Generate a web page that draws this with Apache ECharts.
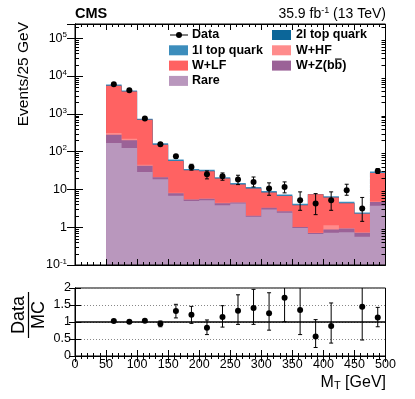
<!DOCTYPE html>
<html><head><meta charset="utf-8">
<script src="https://cdn.jsdelivr.net/npm/echarts@6/dist/echarts.min.js"></script>
<style>html,body{margin:0;padding:0;background:#fff}#c{width:415px;height:399px}</style>
</head><body><div id="c"></div>
<script>
// ---- data ----
var binLow = [50,75,100,125,150,175,200,225,250,275,300,325,350,375,400,425,450,475];
var binWidth = 25;
var rare  = [169,124,29,18.6,6.75,4.97,5.19,3.83,4.24,1.9,2.95,2.40,0.96,0.66,0.71,0.74,0.56,3.67];
var wzbb  = [112,75,13,2.3,1.2,0.44,0.5,0.5,0.27,0.1,0.3,0.26,0.05,0.04,0.16,0.19,0.15,1.0];
var whf   = [32,21,3,0.5,0.15,0.1,0.06,0.08,0.05,0.02,0.03,0.03,0.01,0.01,0.26,0.02,0.02,0.1];
var wlf   = [5200,3680,654,131,48.4,26.6,24.45,15,8.94,8.6,5.0,4.04,2.81,6.7,4.98,3.38,1.53,22.4];
var top2l = [60,40,8,2,0.5,0.3,0.3,0.2,0.1,0.1,0.07,0.06,0.03,0.01,0.05,0.03,0.02,0.2];
var top1l = [400,200,36,11,4.5,2.5,2.4,1.5,1.1,0.85,0.68,0.54,0.31,0.04,0.45,0.35,0.18,2.2];
var dataVal  = [6080,4180,757,156,75,39.3,25.2,22.3,18.2,15.8,10.6,11.6,5.2,4.25,5.2,9.5,3.13,30.7];
var dataErrUp   = [80,65,28,13,9,7,5.7,5,5.5,5.5,4.3,4.2,3.4,3.5,3.4,4.2,3.0,4.8];
var dataErrDown = [80,65,28,12,8.5,7,6.2,4.8,4.8,4.2,3.6,3.5,2.4,2.1,2.4,2.5,1.7,4.3];
var ratioVal     = [1.03,1.01,1.04,0.95,1.32,1.21,0.83,1.15,1.33,1.41,1.26,1.71,1.35,0.57,0.88,null,1.45,1.13];
var ratioErrUp   = [0.02,0.02,0.03,0.08,0.2,0.25,0.23,0.33,0.47,0.55,0.6,0.5,0.9,0.5,0.68,null,0.8,0.3];
var ratioErrDown = [0.02,0.02,0.03,0.09,0.2,0.25,0.2,0.3,0.4,0.48,0.5,0.7,0.72,0.32,0.5,null,0.98,0.27];
var refLine = [[0,1],[500,1]];
var legendNames = ['Data','2l top quark','1l top quark','W+HF','W+LF','W+Z(bb)','Rare'];

// ---- styles ----
var FONT = "'Liberation Sans', Arial, Helvetica, sans-serif";
var comps  = [rare, wzbb, whf, wlf, top2l, top1l];
var colors = ['#b997bd', '#9b6297', '#ff8c8c', '#ff6262', '#0c6699', '#3c8dbc'];
var yMin = 0.1, yMax = 238000;

var cum = [];
for (var k = 0; k < comps.length; k++) {
  cum.push(comps[k].map(function (v, i) { return v + (k > 0 ? cum[k - 1][i] : 0); }));
}
var binHigh = binLow[binLow.length - 1] + binWidth;

function stackItem(params, api) {
  var k = api.value(2);
  var c = cum[k];
  var pts = [];
  pts.push(api.coord([binLow[0], yMin]));
  for (var i = 0; i < binLow.length; i++) {
    pts.push(api.coord([binLow[i], c[i]]));
    pts.push(api.coord([binLow[i] + binWidth, c[i]]));
  }
  pts.push(api.coord([binHigh, yMin]));
  return { type: 'polygon', shape: { points: pts }, style: { fill: colors[k] } };
}

function errItem(params, api) {
  var x = api.value(0), y = api.value(1), lo = api.value(2), hi = api.value(3);
  var p = api.coord([x, y]), pl = api.coord([x, lo]), ph = api.coord([x, hi]);
  var st = { stroke: '#000', lineWidth: 1 };
  return { type: 'group', children: [
    { type: 'line', shape: { x1: p[0], y1: pl[1], x2: p[0], y2: ph[1] }, style: st },
    { type: 'line', shape: { x1: p[0] - 2, y1: pl[1], x2: p[0] + 2, y2: pl[1] }, style: st },
    { type: 'line', shape: { x1: p[0] - 2, y1: ph[1], x2: p[0] + 2, y2: ph[1] }, style: st },
    { type: 'circle', shape: { cx: p[0], cy: p[1], r: 3 }, style: { fill: '#000' } }
  ]};
}

function logMinorTicks(params, api) {
  var ch = [];
  var st = { stroke: '#000', lineWidth: 1 };
  for (var e = -1; e <= 5; e++) {
    for (var m = 2; m <= 9; m++) {
      var v = m * Math.pow(10, e);
      if (v >= yMax) continue;
      var pl = api.coord([0, v]), pr = api.coord([500, v]);
      ch.push({ type: 'line', shape: { x1: pl[0], y1: Math.round(pl[1]) + 0.5, x2: pl[0] + 4, y2: Math.round(pl[1]) + 0.5 }, style: st });
      ch.push({ type: 'line', shape: { x1: pr[0] - 4, y1: Math.round(pr[1]) + 0.5, x2: pr[0], y2: Math.round(pr[1]) + 0.5 }, style: st });
    }
  }
  return { type: 'group', children: ch };
}

var mainData = binLow.map(function (b, i) {
  return [b + binWidth / 2, dataVal[i], dataVal[i] - dataErrDown[i], dataVal[i] + dataErrUp[i]];
});
var ratioData = [];
binLow.forEach(function (b, i) {
  if (ratioVal[i] == null) return;
  ratioData.push([b + binWidth / 2, ratioVal[i], ratioVal[i] - ratioErrDown[i], ratioVal[i] + ratioErrUp[i]]);
});

function logLabel(v) {
  var e = Math.log10(v), r = Math.round(e);
  if (Math.abs(e - r) > 1e-6) return '';
  if (r === 0) return '1';
  if (r === 1) return '10';
  return '10{s|' + r + '}';
}

var axisCommon = {
  axisLine: { show: true, lineStyle: { color: '#000', width: 1 } },
  splitLine: { show: false },
  z: 5
};
function xAx(grid, pos, labels) {
  return Object.assign({}, axisCommon, {
    type: 'value', gridIndex: grid, position: pos, min: 0, max: 500, interval: 50,
    axisTick: { show: true, inside: true, length: 6, lineStyle: { color: '#000' } },
    minorTick: { show: true, splitNumber: 5, length: 3, lineStyle: { color: '#000' } },
    axisLabel: { show: labels, fontFamily: FONT, fontSize: 12.5, color: '#000', margin: 2 }
  });
}
function yLog(pos, labels) {
  return Object.assign({}, axisCommon, {
    type: 'log', gridIndex: 0, position: pos, min: yMin, max: yMax, logBase: 10,
    axisTick: { show: true, inside: true, length: 8, lineStyle: { color: '#000' } },
    axisLabel: { show: labels, fontFamily: FONT, fontSize: 12.5, color: '#000', margin: 8,
      showMaxLabel: false, formatter: logLabel,
      rich: { s: { fontFamily: FONT, fontSize: 8, verticalAlign: 'top', color: '#000', padding: [0, 0, 7, 0] } } }
  });
}
function yRatio(pos, labels) {
  return Object.assign({}, axisCommon, {
    type: 'value', gridIndex: 1, position: pos, min: 0, max: 2, interval: 0.5,
    axisTick: { show: true, inside: true, length: 6, lineStyle: { color: '#000' } },
    splitLine: { show: labels, lineStyle: { color: '#888', type: [1, 2], width: 1 } },
    axisLabel: { show: labels, fontFamily: FONT, fontSize: 12.5, color: '#000', margin: 4 }
  });
}

// legend graphics
var L = [];
var LEGFONT = 'bold 12.5px ' + FONT;
function legText(x, y, t) {
  return { type: 'text', x: x, y: y, z: 20, style: { text: t, fill: '#000', font: LEGFONT, align: 'left', verticalAlign: 'middle' } };
}
function legBox(x, y, c) {
  return { type: 'rect', x: x, y: y - 5, z: 20, shape: { width: 19, height: 10 }, style: { fill: c } };
}
var c1x = 169, c2x = 272, r0 = 35, dr = 15.3;
L.push({ type: 'line', z: 20, shape: { x1: 170, y1: r0, x2: 188, y2: r0 }, style: { stroke: '#000', lineWidth: 1 } });
L.push({ type: 'circle', z: 20, shape: { cx: 179, cy: r0, r: 3 }, style: { fill: '#000' } });
L.push(legText(192, r0, legendNames[0]));
L.push(legBox(c2x, r0, colors[4])); L.push(legText(296, r0, legendNames[1]));
L.push(legBox(c1x, r0 + dr, colors[5])); L.push(legText(192, r0 + dr, legendNames[2]));
L.push(legBox(c2x, r0 + dr, colors[2])); L.push(legText(296, r0 + dr, legendNames[3]));
L.push(legBox(c1x, r0 + 2 * dr, colors[3])); L.push(legText(192, r0 + 2 * dr, legendNames[4]));
L.push(legBox(c2x, r0 + 2 * dr, colors[1])); L.push(legText(296, r0 + 2 * dr, legendNames[5]));
// overline above the second "b" of W+Z(bb)
var wzPre = echarts.format.getTextRect ? echarts.format.getTextRect('W+Z(b', LEGFONT).width : 38.5;
var bW = echarts.format.getTextRect ? echarts.format.getTextRect('b', LEGFONT).width : 7.6;
L.push({ type: 'line', z: 21, shape: { x1: 296 + wzPre + 0.5, y1: r0 + 2 * dr - 6.5, x2: 296 + wzPre + bW - 0.5, y2: r0 + 2 * dr - 6.5 }, style: { stroke: '#000', lineWidth: 1.2 } });
L.push(legBox(c1x, r0 + 3 * dr, colors[0])); L.push(legText(192, r0 + 3 * dr, legendNames[6]));

// titles
L.push({ type: 'text', x: 75, y: 14, style: { text: 'CMS', fill: '#000', font: 'bold 14.5px ' + FONT, align: 'left', verticalAlign: 'middle' } });
L.push({ type: 'text', x: 386, y: 14, style: { text: '35.9 fb{s|-1} (13 TeV)', fill: '#000', font: '14px ' + FONT, align: 'right', verticalAlign: 'middle',
  rich: { s: { fontFamily: FONT, fontSize: 9, verticalAlign: 'top', padding: [0, 0, 7, 0] } } } });
L.push({ type: 'text', x: 24, y: 22, rotation: Math.PI / 2, style: { text: 'Events/25 GeV', fill: '#000', font: '15.5px ' + FONT, align: 'right', verticalAlign: 'middle' } });
L.push({ type: 'text', x: 386, y: 383, style: { text: 'M{t|T} [GeV]', fill: '#000', font: '16px ' + FONT, align: 'right', verticalAlign: 'middle',
  rich: { t: { fontFamily: FONT, fontSize: 11, verticalAlign: 'bottom', padding: [6, 0, 0, 0] } } } });
L.push({ type: 'group', x: 28, y: 315, rotation: Math.PI / 2, children: [
  { type: 'text', x: 0, y: 0, style: { text: 'Data', fill: '#000', font: '18px ' + FONT, align: 'center', verticalAlign: 'bottom' } },
  { type: 'line', shape: { x1: -23, y1: 0.5, x2: 23, y2: 0.5 }, style: { stroke: '#000', lineWidth: 1.2 } },
  { type: 'text', x: 0, y: 2, style: { text: 'MC', fill: '#000', font: '18px ' + FONT, align: 'center', verticalAlign: 'top' } }
]});

var chart = echarts.init(document.getElementById('c'), null, { renderer: 'canvas' });
chart.setOption({
  animation: false,
  backgroundColor: '#fff',
  grid: [
    { left: 75, top: 24, width: 310.5, height: 241, show: true, borderColor: '#000', borderWidth: 1, z: 5, backgroundColor: 'transparent' },
    { left: 75, top: 288, width: 310.5, height: 68, show: true, borderColor: '#000', borderWidth: 1, z: 5, backgroundColor: 'transparent' }
  ],
  xAxis: [xAx(0, 'bottom', false), xAx(0, 'top', false), xAx(1, 'bottom', true), xAx(1, 'top', false)],
  yAxis: [yLog('left', true), yLog('right', false), yRatio('left', true), yRatio('right', false)],
  series: [
    { type: 'custom', xAxisIndex: 0, yAxisIndex: 0, renderItem: stackItem, clip: true, z: 2,
      encode: { x: 0, y: 1 }, data: [[250, 1, 5], [250, 1, 4], [250, 1, 3], [250, 1, 2], [250, 1, 1], [250, 1, 0]] },
    { type: 'custom', xAxisIndex: 0, yAxisIndex: 0, renderItem: logMinorTicks, clip: false, z: 6,
      encode: { x: 0, y: 1 }, data: [[250, 1]] },
    { type: 'custom', xAxisIndex: 0, yAxisIndex: 0, renderItem: errItem, clip: true, z: 8,
      encode: { x: 0, y: 1 }, data: mainData },
    { type: 'line', xAxisIndex: 2, yAxisIndex: 2, data: refLine, symbol: 'none', z: 7,
      lineStyle: { color: '#000', width: 1.5 } },
    { type: 'custom', xAxisIndex: 2, yAxisIndex: 2, renderItem: errItem, clip: true, z: 8,
      encode: { x: 0, y: 1 }, data: ratioData }
  ],
  graphic: L
});
</script></body></html>
